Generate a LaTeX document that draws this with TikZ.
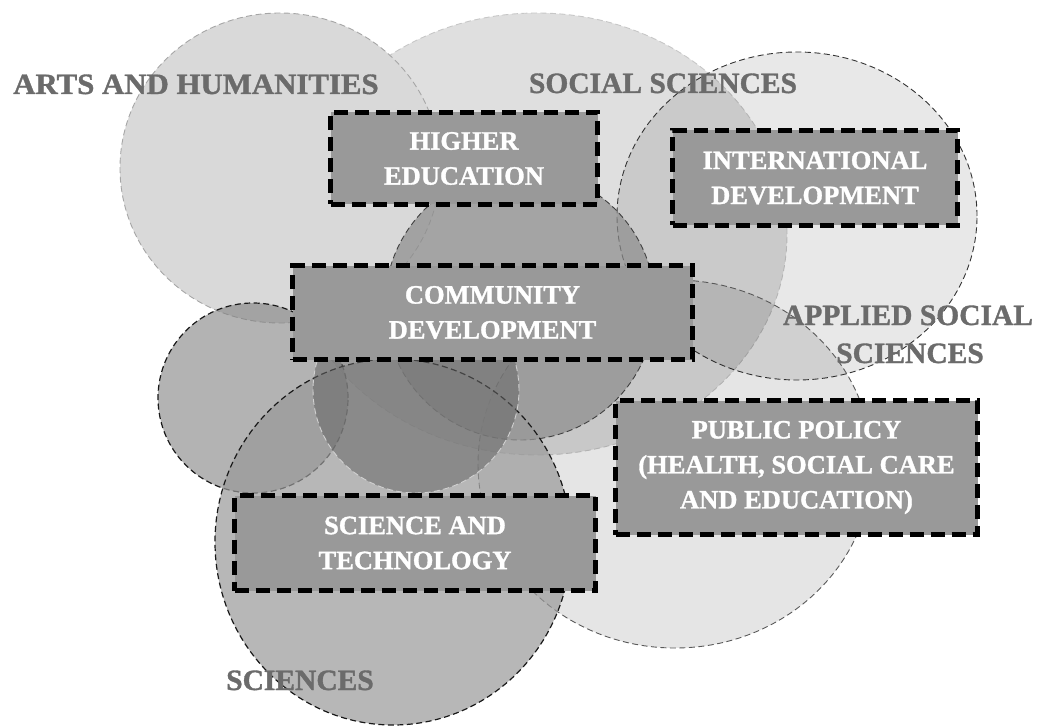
\documentclass[tikz,border=0pt]{standalone}
\usepackage{fontspec}
\usepackage{graphicx}
\setmainfont{Liberation Serif}[BoldFeatures={FakeBold=1.2}]
\definecolor{socfill}{gray}{0.875}
\definecolor{artfill}{gray}{0.85}
\definecolor{boxgray}{gray}{0.6}
\definecolor{labgray}{gray}{0.42}
\tikzset{
  ring/.style={dash pattern=on 6pt off 3.5pt, line width=0.9pt},
  pbox/.style={draw=black, fill=boxgray, line width=5pt, dash pattern=on 14pt off 7pt,
    text=white, font=\bfseries\fontsize{26.5}{35}\selectfont, align=center, inner sep=0pt},
  outer/.style={text=labgray, font=\bfseries\fontsize{29.5}{38}\selectfont, inner sep=0pt, anchor=base},
}
\begin{document}
\begin{tikzpicture}[x=1pt,y=-1pt]
\useasboundingbox (0,0) rectangle (1043,727);
% circles
\path[fill=socfill, draw=black!22, ring] (537,234) ellipse [x radius=250pt, y radius=221pt];
\path[fill=artfill, draw=black!35, ring] (280,168) ellipse [x radius=160pt, y radius=155pt];
\path[fill=black, fill opacity=0.09, draw=black!80, ring] (797,216) ellipse [x radius=180pt, y radius=164pt];
\path[fill=black, fill opacity=0.10, draw=black!65, ring] (675,464) ellipse [x radius=197pt, y radius=184pt];
\path[fill=black!45, fill opacity=0.7, draw=black!75, ring] (520,305) circle [radius=135pt];
\path[fill=black!50, fill opacity=0.6, draw=black!90, ring, line width=1.2pt] (253,398) circle [radius=95pt];
\path[fill=black!40, fill opacity=0.7, draw=black!90, ring, line width=1.2pt] (393,542) ellipse [x radius=178pt, y radius=183pt];
\path[fill=black!60, fill opacity=0.55, draw=black!18, ring] (416,390) circle [radius=103pt];
% outer labels
\node[outer] (arts) at (196,94) {\scalebox{1.045}[1]{ARTS AND HUMANITIES}};
\node[outer] (soc) at (663,93) {SOCIAL SCIENCES};
\node[outer] (app1) at (908,325) {APPLIED SOCIAL};
\node[outer] (app2) at (910,363) {SCIENCES};
\node[outer] (sci) at (300,690) {SCIENCES};
% boxes
\node[pbox, minimum width=267pt, minimum height=92pt] (he) at (464,158.5) {HIGHER\\EDUCATION};
\node[pbox, minimum width=285pt, minimum height=95pt] (id) at (815,178) {INTERNATIONAL\\DEVELOPMENT};
\node[pbox, minimum width=400pt, minimum height=94pt] (cd) at (492.5,312.5) {COMMUNITY\\DEVELOPMENT};
\node[pbox, minimum width=362pt, minimum height=134pt] (pp) at (796.5,467.5) {PUBLIC POLICY\\(HEALTH, SOCIAL CARE\\AND EDUCATION)};
\node[pbox, minimum width=361pt, minimum height=95pt] (st) at (415,543) {SCIENCE AND\\TECHNOLOGY};
\end{tikzpicture}
\end{document}
